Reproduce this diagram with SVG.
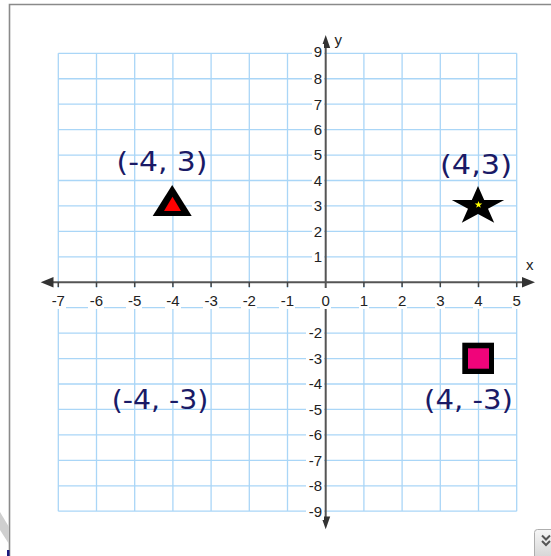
<svg xmlns="http://www.w3.org/2000/svg" width="551" height="556" viewBox="0 0 551 556">
<defs>
<style>
.grid{stroke:#aad6f7;stroke-width:1.3;fill:none}
.axis{stroke:#555;stroke-width:2;fill:none}
.tick{stroke:#444;stroke-width:1.5}
.bg{fill:#fff}
.tl{font-family:"Liberation Sans",Arial,sans-serif;font-size:15px;fill:#222}
.xl{text-anchor:middle}
.yl{text-anchor:end}
.pt{font-family:"DejaVu Sans",Verdana,sans-serif;font-size:26px;fill:#1a1a66}
.ah{fill:#333}
</style>
<linearGradient id="btn" x1="0" y1="0" x2="0" y2="1">
<stop offset="0" stop-color="#f6f6f6"/>
<stop offset="1" stop-color="#d4d4d4"/>
</linearGradient>
</defs>
<rect x="0" y="0" width="551" height="556" fill="#fff"/>
<!-- frame -->
<path d="M9.5,556 V4.5 H551" fill="none" stroke="#8a8a8a" stroke-width="1.6"/>
<polygon points="0,512 9,527 9,544 0,530" fill="#cfcfcf"/>
<rect x="7" y="550" width="2.5" height="6" fill="#1a1a80"/>
<!-- grid -->
<g id="grid">
<path class="grid" d="M58.3,53.3V511.2 M96.5,53.3V511.2 M134.7,53.3V511.2 M172.9,53.3V511.2 M211.1,53.3V511.2 M249.3,53.3V511.2 M287.5,53.3V511.2 M363.9,53.3V511.2 M402.1,53.3V511.2 M440.3,53.3V511.2 M478.5,53.3V511.2 M516.7,53.3V511.2
M58.3,53.3H516.7 M58.3,78.74H516.7 M58.3,104.18H516.7 M58.3,129.62H516.7 M58.3,155.06H516.7 M58.3,180.5H516.7 M58.3,205.94H516.7 M58.3,231.38H516.7 M58.3,256.82H516.7 M58.3,307.7H516.7 M58.3,333.14H516.7 M58.3,358.58H516.7 M58.3,384.02H516.7 M58.3,409.46H516.7 M58.3,434.9H516.7 M58.3,460.34H516.7 M58.3,485.78H516.7 M58.3,511.22H516.7"/>
</g>
<!-- axes -->
<g id="axes">
<path class="axis" d="M52,282.3H523 M325.7,47V517"/>
<polygon class="ah" points="40.7,282.3 53.5,277 53.5,287.6"/>
<polygon class="ah" points="535,282.3 522,277 522,287.6"/>
<polygon class="ah" points="325.7,35 321.2,48 330.2,48"/>
<polygon class="ah" points="325.7,529.3 321.2,516.5 330.2,516.5"/>
<path class="tick" d="M58.3,282V287 M96.5,282V287 M134.7,282V287 M172.9,282V287 M211.1,282V287 M249.3,282V287 M287.5,282V287 M363.9,282V287 M402.1,282V287 M440.3,282V287 M478.5,282V287 M516.7,282V287"/>
</g>
<!-- tick label backgrounds -->
<g id="labelbg" class="bg">
<rect x="50" y="288" width="16" height="21"/>
<rect x="88" y="288" width="16" height="21"/>
<rect x="126" y="288" width="16" height="21"/>
<rect x="165" y="288" width="16" height="21"/>
<rect x="203" y="288" width="16" height="21"/>
<rect x="241" y="288" width="16" height="21"/>
<rect x="279" y="288" width="16" height="21"/>
<rect x="320" y="288" width="11" height="21"/>
<rect x="359" y="288" width="10" height="21"/>
<rect x="397" y="288" width="10" height="21"/>
<rect x="435" y="288" width="10" height="21"/>
<rect x="473" y="288" width="10" height="21"/>
<rect x="512" y="288" width="10" height="21"/>
<rect x="312" y="44" width="12" height="18"/>
<rect x="312" y="70" width="12" height="18"/>
<rect x="312" y="95" width="12" height="18"/>
<rect x="312" y="121" width="12" height="18"/>
<rect x="312" y="146" width="12" height="18"/>
<rect x="312" y="171" width="12" height="18"/>
<rect x="312" y="197" width="12" height="18"/>
<rect x="312" y="222" width="12" height="18"/>
<rect x="312" y="248" width="12" height="18"/>
<rect x="306" y="324" width="18" height="18"/>
<rect x="306" y="350" width="18" height="18"/>
<rect x="306" y="375" width="18" height="18"/>
<rect x="306" y="400" width="18" height="18"/>
<rect x="306" y="426" width="18" height="18"/>
<rect x="306" y="451" width="18" height="18"/>
<rect x="306" y="477" width="18" height="18"/>
<rect x="306" y="502" width="18" height="18"/>
</g>
<g id="ticklabels" class="tl">
<text class="xl" x="58.3" y="306">-7</text>
<text class="xl" x="96.5" y="306">-6</text>
<text class="xl" x="134.7" y="306">-5</text>
<text class="xl" x="172.9" y="306">-4</text>
<text class="xl" x="211.1" y="306">-3</text>
<text class="xl" x="249.3" y="306">-2</text>
<text class="xl" x="287.5" y="306">-1</text>
<text class="xl" x="325.7" y="306">0</text>
<text class="xl" x="363.9" y="306">1</text>
<text class="xl" x="402.1" y="306">2</text>
<text class="xl" x="440.3" y="306">3</text>
<text class="xl" x="478.5" y="306">4</text>
<text class="xl" x="516.7" y="306">5</text>
<text class="yl" x="322" y="57">9</text>
<text class="yl" x="322" y="84">8</text>
<text class="yl" x="322" y="109.5">7</text>
<text class="yl" x="322" y="135">6</text>
<text class="yl" x="322" y="160.4">5</text>
<text class="yl" x="322" y="185.8">4</text>
<text class="yl" x="322" y="211.2">3</text>
<text class="yl" x="322" y="236.7">2</text>
<text class="yl" x="322" y="262.1">1</text>
<text class="yl" x="322" y="338.4">-2</text>
<text class="yl" x="322" y="363.9">-3</text>
<text class="yl" x="322" y="389.3">-4</text>
<text class="yl" x="322" y="414.8">-5</text>
<text class="yl" x="322" y="440.2">-6</text>
<text class="yl" x="322" y="465.6">-7</text>
<text class="yl" x="322" y="491.1">-8</text>
<text class="yl" x="322" y="516.5">-9</text>
<text x="526" y="270">x</text>
<text x="334.5" y="45">y</text>
</g>
<!-- points -->
<g id="triangle">
<polygon points="172.2,185 191.7,216 152.7,216" fill="#000"/>
<polygon points="172.5,196.7 181,211 164,211" fill="#f00"/>
</g>
<g id="star">
<polygon points="478,186 484.2,200 504.2,200 488,208.7 494.2,222.7 478,214 461.8,222.7 468,208.7 451.8,200 471.8,200" fill="#000"/>
<polygon points="478.5,201 479.4,203.5 482.3,203.6 480,205.3 480.8,207.8 478.5,206.3 476.2,207.8 477,205.3 474.7,203.6 477.6,203.5" fill="#ff0"/>
</g>
<g id="square">
<rect x="462.3" y="342.7" width="31.7" height="31.3" fill="#000"/>
<rect x="468" y="348.3" width="21" height="20.4" fill="#f0047a"/>
</g>
<g id="pointlabels" class="pt">
<text x="116.5" y="171" textLength="91" lengthAdjust="spacingAndGlyphs">(-4, 3)</text>
<text x="440" y="174" textLength="72" lengthAdjust="spacingAndGlyphs">(4,3)</text>
<text x="111.7" y="409" textLength="96.6" lengthAdjust="spacingAndGlyphs">(-4, -3)</text>
<text x="424" y="409" textLength="89" lengthAdjust="spacingAndGlyphs">(4, -3)</text>
</g>
<!-- corner button -->
<g id="button">
<rect x="534.5" y="529.5" width="22" height="30" rx="3" fill="url(#btn)" stroke="#aeaeae"/>
<path d="M542,535.5 L546,539.5 L550,535.5 M542,541 L546,545 L550,541" fill="none" stroke="#555" stroke-width="2"/>
</g>
</svg>
